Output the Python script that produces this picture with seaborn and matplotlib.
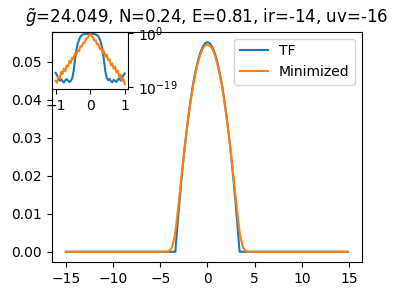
import matplotlib
matplotlib.use('Agg')
from matplotlib import pyplot as plt
from matplotlib.ticker import NullLocator
import seaborn as sns

# density profile, real space
x = [-15, -10, -5, -4.5, -4.25, -4, -3.75, -3.5, -3.4, -3.25, -3, -2.75, -2.5, -2.25,
     -2, -1.75, -1.5, -1.25, -1, -0.75, -0.5, -0.25, 0, 0.25, 0.5, 0.75, 1, 1.25,
     1.5, 1.75, 2, 2.25, 2.5, 2.75, 3, 3.25, 3.4, 3.5, 3.75, 4, 4.25, 4.5, 5, 10, 14.85]
tf = [0, 0, 0, 0, 0, 0, 0, 0, 0, 0.0048, 0.0122, 0.0191, 0.0254, 0.0310,
      0.0361, 0.0406, 0.0445, 0.0477, 0.0504, 0.0525, 0.0540, 0.0549, 0.0552, 0.0549, 0.0540, 0.0525, 0.0504, 0.0477,
      0.0445, 0.0406, 0.0361, 0.0310, 0.0254, 0.0191, 0.0122, 0.0048, 0, 0, 0, 0, 0, 0, 0, 0, 0]
minimized = [0, 0, 0, 0, 0.00005, 0.0003, 0.0012, 0.0038, 0.0053, 0.0083, 0.0139, 0.0199, 0.0256, 0.0309,
             0.0358, 0.0402, 0.0440, 0.0472, 0.0499, 0.0520, 0.0535, 0.0543, 0.0546, 0.0543, 0.0535, 0.0520, 0.0499, 0.0472,
             0.0440, 0.0402, 0.0358, 0.0309, 0.0256, 0.0199, 0.0139, 0.0083, 0.0053, 0.0038, 0.0012, 0.0003, 0.00005, 0, 0, 0, 0]

# inset (log scale)
k = [-1.00, -0.96, -0.92, -0.88, -0.84, -0.80, -0.76, -0.72, -0.68, -0.64, -0.60, -0.56, -0.52,
     -0.48, -0.44, -0.40, -0.36, -0.32, -0.28, -0.24, -0.20, -0.16, -0.12, -0.08, -0.04, 0.00,
     0.04, 0.08, 0.12, 0.16, 0.20, 0.24, 0.28, 0.32, 0.36, 0.40, 0.44, 0.48, 0.52,
     0.56, 0.60, 0.64, 0.68, 0.72, 0.76, 0.80, 0.84, 0.88, 0.92, 0.96, 1.00]
tf_k = [1e-14, 1.6e-15, 1e-16, 1.6e-17, 5.0e-17, 1.3e-17, 4.0e-18, 2.5e-17, 6.3e-17, 2.0e-17, 6.3e-18, 1.6e-17, 1e-16,
        3.2e-14, 3.2e-10, 1e-6, 1.6e-4, 5.0e-3, 5.0e-2, 0.16, 0.32, 0.42, 0.48, 0.5, 0.5, 0.5,
        0.5, 0.48, 0.42, 0.32, 0.16, 5.0e-2, 5.0e-3, 1.6e-4, 1e-6, 3.2e-10, 3.2e-14, 1.6e-16, 2.5e-17,
        7.9e-17, 1.3e-17, 5.0e-18, 3.2e-17, 1.6e-17, 6.3e-18, 4.0e-17, 1e-16, 2.0e-17, 1.6e-16, 1.3e-15, 6.3e-15]
min_k = [1.6e-17, 3.8e-18, 4.6e-16, 1.1e-16, 2.1e-14, 4.0e-15, 3.0e-13, 3.6e-14, 3.5e-12, 1.7e-12, 2.0e-10, 3.0e-11, 2.3e-9,
         8.7e-10, 8.3e-8, 2.5e-8, 9.5e-7, 4.6e-7, 2.8e-5, 1.7e-5, 4.0e-4, 3.8e-4, 9.1e-3, 1.4e-2, 0.13, 0.5,
         8.3e-2, 3.5e-2, 2.3e-3, 2.4e-3, 1.0e-4, 1.3e-4, 2.2e-6, 4.6e-6, 1.2e-7, 4.0e-7, 4.2e-9, 2.2e-8, 2.3e-10,
         6.0e-10, 4.0e-12, 2.1e-11, 2.8e-13, 1.8e-12, 1.5e-14, 6.3e-14, 4.2e-16, 2.2e-15, 1.4e-17, 7.6e-17, 1.0e-18]

fig = plt.figure(figsize=(3.98, 2.96), dpi=100)
ax = fig.add_axes([0.13, 0.114, 0.779, 0.779])

sns.lineplot(x=x, y=tf, ax=ax, label='TF', color='C0')
sns.lineplot(x=x, y=minimized, ax=ax, label='Minimized', color='C1')
ax.set_title(r'$\tilde{g}$=24.049, N=0.24, E=0.81, ir=-14, uv=-16')
ax.legend(loc='upper right')

# inset
axin = fig.add_axes([0.131, 0.699, 0.191, 0.193])
sns.lineplot(x=k, y=tf_k, ax=axin, color='C0')
sns.lineplot(x=k, y=min_k, ax=axin, color='C1')
axin.set_yscale('log')
axin.set_ylim(10 ** -19.7, 10 ** 0.35)
axin.set_yticks([1e-19, 1e0])
axin.yaxis.set_minor_locator(NullLocator())
axin.yaxis.tick_right()
axin.set_xticks([-1, 0, 1])

plt.savefig('out.png', dpi=100)
